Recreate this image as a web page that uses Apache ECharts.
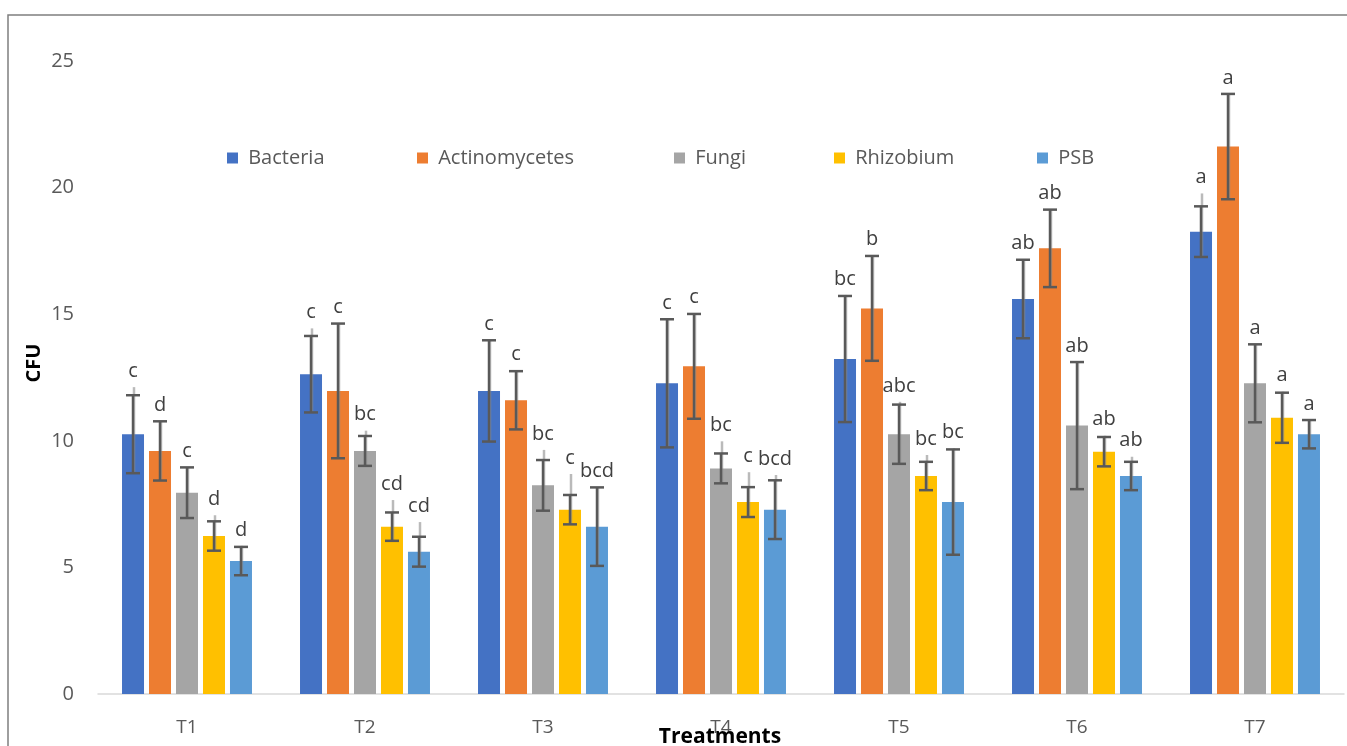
<!DOCTYPE html>
<html>
<head>
<meta charset="utf-8">
<script src="https://cdn.jsdelivr.net/npm/echarts@6/dist/echarts.min.js"></script>
<style>
html,body{margin:0;padding:0;background:#fff;overflow:hidden;}
#chart{width:1347px;height:746px;}
</style>
</head>
<body>
<div id="chart"></div>
<script>
// ---- data ----
const categories = ['T1','T2','T3','T4','T5','T6','T7'];
const seriesNames = ['Bacteria','Actinomycetes','Fungi','Rhizobium','PSB'];

const bacteria      = [10.26, 12.63, 11.97, 12.27, 13.23, 15.60, 18.26];
const actinomycetes = [9.60, 11.97, 11.60, 12.94, 15.23, 17.60, 21.62];
const fungi         = [7.95, 9.60, 8.24, 8.91, 10.26, 10.60, 12.27];
const rhizobium     = [6.24, 6.61, 7.28, 7.58, 8.61, 9.57, 10.91];
const psb           = [5.25, 5.62, 6.61, 7.28, 7.58, 8.61, 10.26];

// standard error bars (symmetric)
const bacteriaErr      = [1.54, 1.51, 2.00, 2.53, 2.49, 1.55, 1.00];
const actinomycetesErr = [1.17, 2.66, 1.15, 2.07, 2.07, 1.53, 2.08];
const fungiErr         = [1.00, 0.59, 1.00, 0.59, 1.17, 2.51, 1.54];
const rhizobiumErr     = [0.58, 0.56, 0.58, 0.59, 0.56, 0.58, 0.99];
const psbErr           = [0.56, 0.59, 1.55, 1.16, 2.08, 0.56, 0.56];

// faint secondary whisker tops
const bacteriaFaint      = [12.12, 14.44, 13.95, 14.80, 15.76, 17.17, 19.77];
const actinomycetesFaint = [10.78, 14.60, 12.78, 15.03, 17.32, 19.15, 23.68];
const fungiFaint         = [8.91, 10.40, 9.64, 9.98, 11.54, 13.12, 13.81];
const rhizobiumFaint     = [7.06, 7.66, 8.69, 8.76, 9.44, 10.20, 11.94];
const psbFaint           = [5.85, 6.79, 8.16, 8.65, 9.70, 9.37, 10.82];

// significance letters
const bacteriaLetters      = ['c','c','c','c','bc','ab','a'];
const actinomycetesLetters = ['d','c','c','c','b','ab','a'];
const fungiLetters         = ['c','bc','bc','bc','abc','ab','a'];
const rhizobiumLetters     = ['d','cd','c','c','bc','ab','a'];
const psbLetters           = ['d','cd','bcd','bcd','bc','ab','a'];

const yTicks = [0, 5, 10, 15, 20, 25];

// ---- build ----
const values  = [bacteria, actinomycetes, fungi, rhizobium, psb];
const errs    = [bacteriaErr, actinomycetesErr, fungiErr, rhizobiumErr, psbErr];
const faints  = [bacteriaFaint, actinomycetesFaint, fungiFaint, rhizobiumFaint, psbFaint];
const letters = [bacteriaLetters, actinomycetesLetters, fungiLetters, rhizobiumLetters, psbLetters];
const colors  = ['#4472C4','#ED7D31','#A5A5A5','#FFC000','#5B9BD5'];

const BAR_W = 22, BAR_GAP = 5;
const offsets = seriesNames.map((_, i) => (i - 2) * (BAR_W + BAR_GAP));

const rows = [];
values.forEach((arr, s) => arr.forEach((v, c) => {
  rows.push({cat: c, s: s, mean: v, sd: errs[s][c], faint: faints[s][c], letter: letters[s][c]});
}));

const FONT = '"Open Sans", "Liberation Sans", sans-serif';

const barSeries = seriesNames.map((name, i) => ({
  name: name,
  type: 'bar',
  data: values[i],
  barWidth: BAR_W,
  barGap: (BAR_GAP / BAR_W * 100).toFixed(1) + '%',
  itemStyle: {color: colors[i]},
  emphasis: {disabled: true},
  z: 2
}));

const errSeries = {
  type: 'custom',
  data: rows.map(r => [r.cat, r.mean + r.sd]),
  encode: {x: 0, y: 1},
  z: 5,
  silent: true,
  renderItem: function (params, api) {
    const r = rows[params.dataIndex];
    const x = api.coord([r.cat, r.mean])[0] + offsets[r.s];
    const yHi = api.coord([r.cat, r.mean + r.sd])[1];
    const yLo = api.coord([r.cat, r.mean - r.sd])[1];
    const yF  = api.coord([r.cat, Math.max(r.faint, r.mean + r.sd)])[1];
    const cap = 7;
    const dark = '#595959';
    const top = Math.min(yHi, yF);
    return {
      type: 'group',
      children: [
        {type: 'line', shape: {x1: x + 1, y1: yF, x2: x + 1, y2: yLo},
         style: {stroke: 'rgba(140,140,140,0.6)', lineWidth: 2.5}},
        {type: 'line', shape: {x1: x, y1: yHi, x2: x, y2: yLo},
         style: {stroke: dark, lineWidth: 2.5}},
        {type: 'line', shape: {x1: x - cap, y1: yHi, x2: x + cap, y2: yHi},
         style: {stroke: dark, lineWidth: 2.5}},
        {type: 'line', shape: {x1: x - cap, y1: yLo, x2: x + cap, y2: yLo},
         style: {stroke: dark, lineWidth: 2.5}},
        {type: 'text', x: x, y: top - 16,
         style: {text: r.letter, fill: '#404040', font: '20px ' + FONT,
                 textAlign: 'center', textVerticalAlign: 'middle'}}
      ]
    };
  }
};

const legendLefts = [222, 412, 669, 829, 1032];
const legends = seriesNames.map((name, i) => ({
  data: [name],
  left: legendLefts[i],
  top: 143,
  icon: 'rect',
  itemWidth: 11,
  itemHeight: 11,
  selectedMode: false,
  formatter: n => ' ' + n,
  textStyle: {fontSize: 20, color: '#595959', fontFamily: FONT}
}));

const chart = echarts.init(document.getElementById('chart'), null,
  {renderer: 'canvas', width: 1347, height: 746});
chart.setOption({
  animation: false,
  backgroundColor: '#ffffff',
  grid: {left: 98, right: 3, top: 61, bottom: 52, containLabel: false, outerBoundsMode: 'none'},
  legend: legends,
  xAxis: {
    type: 'category',
    data: categories,
    axisLine: {lineStyle: {color: '#d9d9d9', width: 1.5}},
    axisTick: {show: false},
    axisLabel: {fontSize: 19, color: '#595959', fontFamily: FONT, margin: 24}
  },
  yAxis: {
    type: 'value',
    min: yTicks[0],
    max: yTicks[yTicks.length - 1],
    interval: 5,
    axisLine: {show: false},
    axisTick: {show: false},
    splitLine: {show: false},
    axisLabel: {fontSize: 20, color: '#595959', fontFamily: FONT, margin: 24}
  },
  graphic: [
    {type: 'rect', shape: {x: 8, y: 15, width: 1400, height: 800},
     style: {fill: 'none', stroke: '#7f7f7f', lineWidth: 1.5}, silent: true},
    {type: 'text', x: 34, y: 363, rotation: Math.PI / 2,
     style: {text: 'CFU', font: 'bold 20px ' + FONT, fill: '#000',
             textAlign: 'center', textVerticalAlign: 'middle'}, silent: true},
    {type: 'text', x: 720, y: 737, z: 10,
     style: {text: 'Treatments', font: 'bold 21px ' + FONT, fill: '#000',
             textAlign: 'center', textVerticalAlign: 'middle'}, silent: true}
  ],
  series: barSeries.concat([errSeries])
});
</script>
</body>
</html>
